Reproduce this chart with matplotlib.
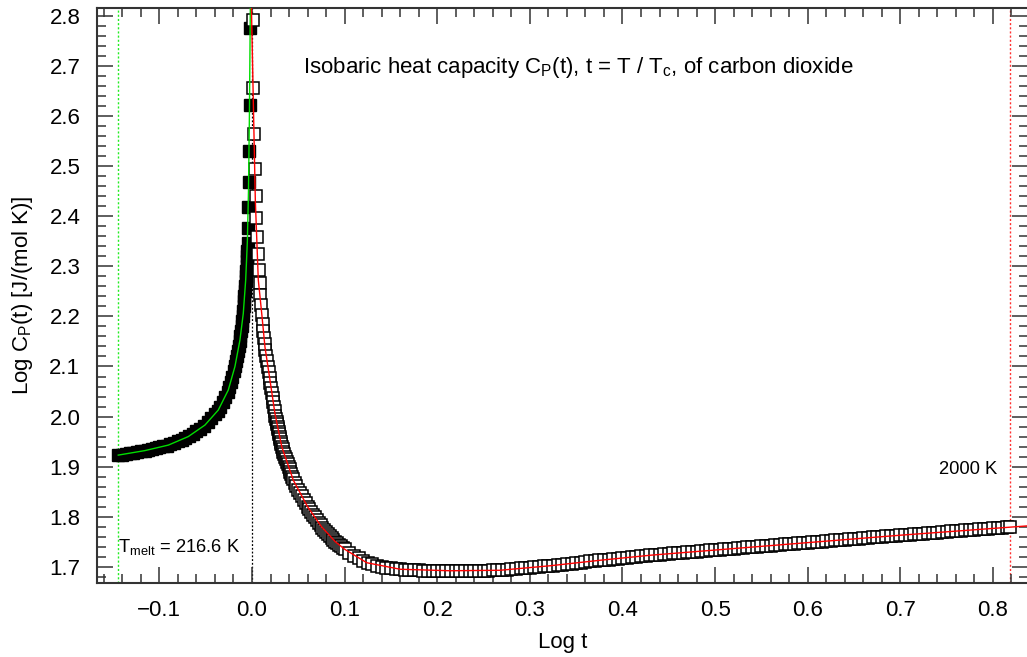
import matplotlib
matplotlib.use("Agg")
import matplotlib.pyplot as plt
from matplotlib.ticker import MultipleLocator, FuncFormatter

plt.rcParams['font.family'] = ['Liberation Sans', 'DejaVu Sans']
plt.rcParams['mathtext.fontset'] = 'custom'
plt.rcParams['mathtext.rm'] = 'Liberation Sans'

# liquid branch (filled squares), log t vs log Cp
liq_x = [-0.1444, -0.140, -0.136, -0.132, -0.128, -0.124, -0.120, -0.116, -0.112, -0.108,
         -0.104, -0.100, -0.096, -0.092, -0.088, -0.084, -0.080, -0.076, -0.072, -0.068,
         -0.064, -0.060, -0.056, -0.052, -0.048, -0.044, -0.040, -0.037,
         -0.0345, -0.0318, -0.0291, -0.0264, -0.0245, -0.0230, -0.0215, -0.0199, -0.0184,
         -0.0174, -0.0164, -0.0153, -0.0143, -0.0133, -0.0125, -0.0118, -0.0112, -0.0105,
         -0.0098, -0.0092, -0.0089, -0.0085, -0.0081, -0.0077, -0.0073, -0.0069, -0.0066,
         -0.0063, -0.0059, -0.0056, -0.0053, -0.0050,
         -0.0047, -0.0043, -0.0039, -0.0035, -0.0030, -0.0025, -0.0020]
liq_y = [1.923, 1.924, 1.926, 1.927, 1.928, 1.929, 1.931, 1.932, 1.934, 1.935,
         1.937, 1.939, 1.941, 1.942, 1.945, 1.948, 1.951, 1.954, 1.957, 1.961,
         1.966, 1.971, 1.976, 1.982, 1.989, 1.997, 2.006, 2.012,
         2.02, 2.03, 2.04, 2.05, 2.06, 2.07, 2.08, 2.09, 2.10,
         2.11, 2.12, 2.13, 2.14, 2.15, 2.16, 2.17, 2.18, 2.19,
         2.20, 2.21, 2.22, 2.23, 2.24, 2.25, 2.26, 2.27, 2.28,
         2.29, 2.30, 2.31, 2.32, 2.33,
         2.346, 2.377, 2.418, 2.468, 2.530, 2.622, 2.777]

# gas branch (open squares)
gas_x = [0.0008, 0.0014, 0.0022, 0.0032, 0.0040, 0.0047, 0.0057, 0.0066, 0.0074, 0.0082,
         0.0090, 0.0098, 0.0106, 0.0114,
         0.0124, 0.0131, 0.0137, 0.0145, 0.0155, 0.0164, 0.0173, 0.0182, 0.0190,
         0.0198, 0.0206, 0.0214, 0.0222, 0.0229, 0.0237, 0.0244, 0.0251,
         0.0260, 0.0266, 0.0271, 0.0277, 0.0282, 0.0288, 0.0293, 0.0299, 0.0304, 0.0310,
         0.0315, 0.0321, 0.0330, 0.0340, 0.0349, 0.0358, 0.0368, 0.0377, 0.0386, 0.0396,
         0.0405, 0.0414, 0.0424, 0.0433, 0.0442,
         0.046, 0.048, 0.050, 0.052, 0.054, 0.056, 0.058, 0.060, 0.062, 0.064,
         0.066, 0.068, 0.070, 0.072, 0.074, 0.076, 0.078, 0.080, 0.082, 0.084,
         0.086, 0.088, 0.090, 0.092, 0.094, 0.096, 0.098, 0.100,
         0.105, 0.110, 0.115, 0.120, 0.125, 0.130, 0.135, 0.140, 0.145, 0.150,
         0.155, 0.160, 0.165, 0.170, 0.175, 0.180, 0.185, 0.190, 0.195, 0.200,
         0.205, 0.210, 0.215, 0.220, 0.225, 0.230, 0.235, 0.240, 0.245, 0.250,
         0.255, 0.260, 0.265, 0.270, 0.275, 0.280, 0.285, 0.290, 0.295, 0.300,
         0.305, 0.310, 0.315, 0.320, 0.325, 0.330, 0.335, 0.340, 0.345, 0.350,
         0.355, 0.360, 0.365, 0.370, 0.375, 0.380, 0.385, 0.390, 0.395, 0.400,
         0.405, 0.410, 0.415, 0.420, 0.425, 0.430, 0.435, 0.440, 0.445, 0.450,
         0.455, 0.460, 0.465, 0.470, 0.475, 0.480, 0.485, 0.490, 0.495, 0.500,
         0.505, 0.510, 0.515, 0.520, 0.525, 0.530, 0.535, 0.540, 0.545, 0.550,
         0.555, 0.560, 0.565, 0.570, 0.575, 0.580, 0.585, 0.590, 0.595, 0.600,
         0.605, 0.610, 0.615, 0.620, 0.625, 0.630, 0.635, 0.640, 0.645, 0.650,
         0.655, 0.660, 0.665, 0.670, 0.675, 0.680, 0.685, 0.690, 0.695, 0.700,
         0.705, 0.710, 0.715, 0.720, 0.725, 0.730, 0.735, 0.740, 0.745, 0.750,
         0.755, 0.760, 0.765, 0.770, 0.775, 0.780, 0.785, 0.790, 0.795, 0.800,
         0.805, 0.810, 0.815, 0.818]
gas_y = [2.792, 2.656, 2.564, 2.494, 2.441, 2.396, 2.358, 2.325, 2.293, 2.266,
         2.243, 2.223, 2.203, 2.185,
         2.170, 2.157, 2.145, 2.133, 2.121, 2.110, 2.099, 2.088, 2.078,
         2.068, 2.058, 2.048, 2.038, 2.029, 2.020, 2.011, 2.002,
         1.995, 1.990, 1.985, 1.980, 1.975, 1.970, 1.965, 1.960, 1.955, 1.950,
         1.945, 1.940, 1.935, 1.930, 1.925, 1.920, 1.915, 1.910, 1.905, 1.900,
         1.895, 1.890, 1.885, 1.880, 1.875,
         1.868, 1.861, 1.854, 1.848, 1.841, 1.834, 1.827, 1.820, 1.815, 1.809,
         1.804, 1.799, 1.793, 1.788, 1.783, 1.778, 1.774, 1.770, 1.766, 1.762,
         1.758, 1.754, 1.750, 1.747, 1.744, 1.741, 1.738, 1.735,
         1.728, 1.722, 1.717, 1.712, 1.708, 1.705, 1.702, 1.700, 1.698, 1.697,
         1.696, 1.695, 1.694, 1.694, 1.693, 1.693, 1.692, 1.692, 1.692, 1.692,
         1.692, 1.692, 1.692, 1.691, 1.691, 1.691, 1.691, 1.691, 1.692, 1.692,
         1.692, 1.693, 1.693, 1.693, 1.694, 1.695, 1.696, 1.697, 1.698, 1.698,
         1.699, 1.700, 1.701, 1.702, 1.702, 1.703, 1.704, 1.705, 1.706, 1.707,
         1.708, 1.709, 1.711, 1.712, 1.713, 1.714, 1.714, 1.715, 1.716, 1.717,
         1.718, 1.719, 1.720, 1.721, 1.722, 1.723, 1.724, 1.724, 1.725, 1.726,
         1.727, 1.727, 1.728, 1.729, 1.730, 1.730, 1.731, 1.732, 1.733, 1.733,
         1.734, 1.735, 1.736, 1.736, 1.737, 1.738, 1.739, 1.739, 1.740, 1.741,
         1.742, 1.742, 1.743, 1.744, 1.745, 1.745, 1.746, 1.747, 1.747, 1.748,
         1.749, 1.750, 1.750, 1.751, 1.752, 1.753, 1.753, 1.754, 1.755, 1.756,
         1.756, 1.757, 1.758, 1.759, 1.759, 1.760, 1.761, 1.761, 1.762, 1.763,
         1.764, 1.764, 1.765, 1.766, 1.766, 1.767, 1.768, 1.768, 1.769, 1.770,
         1.771, 1.771, 1.772, 1.773, 1.773, 1.774, 1.775, 1.775, 1.776, 1.777,
         1.777, 1.778, 1.779, 1.779]

# fitted curves
liq_fit_x = [-0.1444, -0.1156, -0.0903, -0.0688, -0.0508, -0.0364, -0.0256, -0.0184,
             -0.0130, -0.0094, -0.0068, -0.0050, -0.0038, -0.0028, -0.0018]
liq_fit_y = [1.923, 1.932, 1.943, 1.960, 1.983, 2.013, 2.053, 2.100,
             2.153, 2.206, 2.273, 2.350, 2.450, 2.600, 2.816]
gas_fit_x = [-0.0006, 0.0014, 0.0036, 0.0068, 0.0105, 0.0140, 0.0194, 0.0248, 0.0321,
             0.0446, 0.060, 0.075, 0.090, 0.100, 0.124, 0.160, 0.214, 0.268, 0.322,
             0.376, 0.430, 0.484, 0.592, 0.700, 0.818, 0.840]
gas_fit_y = [2.816, 2.632, 2.432, 2.273, 2.206, 2.139, 2.073, 2.006, 1.940,
             1.873, 1.820, 1.780, 1.750, 1.735, 1.708, 1.695, 1.692, 1.693, 1.702,
             1.713, 1.723, 1.731, 1.747, 1.763, 1.779, 1.782]

x_melt = -0.1444
x_2000 = 0.818
fs = 16

fig = plt.figure(figsize=(10.27, 6.57), dpi=100)
ax = fig.add_axes([0.0944, 0.1126, 0.9067, 0.8752])

ax.axvline(x_melt, color='#22ee22', ls=(0, (1.5, 1.5)), lw=1.0, zorder=1)
ax.axvline(0.0, color='black', ls=(0, (1.5, 1.5)), lw=0.9, zorder=1)
ax.axvline(x_2000, color='#ff3030', ls=(0, (1.5, 1.5)), lw=1.0, zorder=1)

ax.plot(liq_x, liq_y, ls='none', marker='s', ms=9, mfc='black', mec='black', zorder=2)
ax.plot(gas_x, gas_y, ls='none', marker='s', ms=9, mfc='white', mec='black', mew=1.1, zorder=2)
ax.plot(liq_fit_x, liq_fit_y, color='#00dd00', lw=1.0, zorder=3)
ax.plot(gas_fit_x, gas_fit_y, color='#ff0000', lw=1.0, zorder=3)

ax.set_xlim(-0.1674, 0.838)
ax.set_ylim(1.6675, 2.816)
fmt = FuncFormatter(lambda v, p: f'{v:.1f}'.replace('-', '\u2212'))
ax.xaxis.set_major_locator(MultipleLocator(0.1))
ax.xaxis.set_minor_locator(MultipleLocator(0.02))
ax.yaxis.set_major_locator(MultipleLocator(0.1))
ax.yaxis.set_minor_locator(MultipleLocator(0.02))
ax.xaxis.set_major_formatter(fmt)
ax.yaxis.set_major_formatter(fmt)
ax.tick_params(which='both', direction='in', top=True, right=True, color='#333333', width=1.1)
ax.tick_params(which='major', length=11.5, labelsize=fs)
ax.tick_params(axis='x', which='major', pad=12)
ax.tick_params(axis='y', which='major', pad=12)
ax.tick_params(which='minor', length=6.5)
for s in ax.spines.values():
    s.set_linewidth(1.5)
    s.set_color('#333333')

ax.set_xlabel('Log t', fontsize=fs, labelpad=8)
ax.set_ylabel(r'Log $\mathregular{C_P}$(t) [J/(mol K)]', fontsize=fs, labelpad=10)

ax.text(0.055, 2.697, r'Isobaric heat capacity $\mathregular{C_P}$(t), t = T / $\mathregular{T_c}$, of carbon dioxide',
        fontsize=fs, va='center')
ax.text(-0.145, 1.729, r'$\mathregular{T_{melt}}$ = 216.6 K', fontsize=13.2, va='baseline')
ax.text(0.8045, 1.895, '2000 K', fontsize=13.2, ha='right', va='center')

fig.savefig('out.png', dpi=100)
